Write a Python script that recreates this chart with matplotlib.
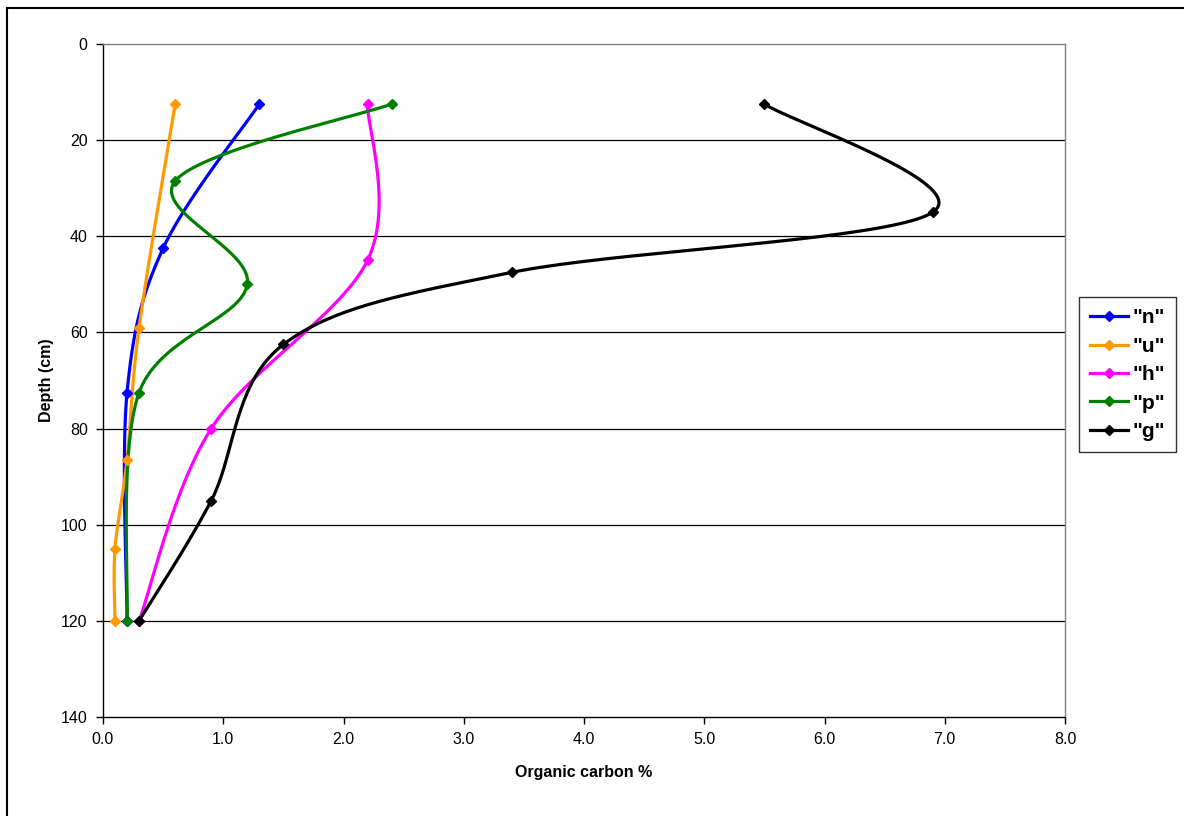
import numpy as np
import matplotlib
matplotlib.use("Agg")
import matplotlib.pyplot as plt
from matplotlib.lines import Line2D
from matplotlib.patches import Rectangle

plt.rcParams['font.family'] = ['Liberation Sans', 'DejaVu Sans']

n_x = [1.3, 0.5, 0.2, 0.2]
n_y = [12.5, 42.5, 72.5, 120]
u_x = [0.6, 0.3, 0.2, 0.1, 0.1]
u_y = [12.5, 59, 86.5, 105, 120]
h_x = [2.2, 2.2, 0.9, 0.3]
h_y = [12.5, 45, 80, 120]
p_x = [2.4, 0.6, 1.2, 0.3, 0.2]
p_y = [12.5, 28.5, 50, 72.5, 120]
g_x = [5.5, 6.9, 3.4, 1.5, 0.9, 0.3]
g_y = [12.5, 35, 47.5, 62.5, 95, 120]

series = [
    ('"n"', n_x, n_y, '#0000FF'),
    ('"u"', u_x, u_y, '#FF9900'),
    ('"h"', h_x, h_y, '#FF00FF'),
    ('"p"', p_x, p_y, '#008000'),
    ('"g"', g_x, g_y, '#000000'),
]

y_ticks = [0, 20, 40, 60, 80, 100, 120, 140]
x_ticks = [0.0, 1.0, 2.0, 3.0, 4.0, 5.0, 6.0, 7.0, 8.0]

fig = plt.figure(figsize=(11.84, 8.16), dpi=100)
fig.patches.append(Rectangle((7/1184, -0.1), 1.2, 1 - 8/816 + 0.1, transform=fig.transFigure,
                             fill=False, edgecolor='black', lw=1.5))
ax = fig.add_axes([103/1184, 1 - 717/816, (1065-103)/1184, (717-44)/816])

# pixel scale factors for smoothing in screen-like space
sx = (1065 - 103) / 8.0
sy = (717 - 44) / 140.0


def smooth(xs, ys, npts=40):
    P = np.column_stack([np.array(xs) * sx, np.array(ys) * sy])
    if len(P) < 3:
        return P[:, 0] / sx, P[:, 1] / sy
    out = []
    m = len(P)
    for i in range(m - 1):
        p0 = P[i - 1] if i > 0 else P[i]
        p1 = P[i]
        p2 = P[i + 1]
        p3 = P[i + 2] if i + 2 < m else P[i + 1]
        c1 = p1 + (p2 - p0) / 6.0
        c2 = p2 - (p3 - p1) / 6.0
        t = np.linspace(0, 1, npts)[:, None]
        b = ((1 - t) ** 3) * p1 + 3 * ((1 - t) ** 2) * t * c1 + 3 * (1 - t) * t ** 2 * c2 + t ** 3 * p2
        out.append(b if i == 0 else b[1:])
    B = np.vstack(out)
    return B[:, 0] / sx, B[:, 1] / sy


handles = []
for name, xs, ys, c in series:
    sxv, syv = smooth(xs, ys)
    ax.plot(sxv, syv, color=c, lw=2.3, solid_capstyle='round', zorder=3)
    ax.plot(xs, ys, linestyle='none', marker='D', markersize=5.5, color=c, zorder=4)
    handles.append(Line2D([0], [0], color=c, lw=2.3, marker='D', markersize=5.5, label=name))

ax.set_xlim(0, 8)
ax.set_ylim(140, 0)
ax.set_xticks(x_ticks)
ax.set_xticklabels([f"{v:.1f}" for v in x_ticks])
ax.set_yticks(y_ticks)
ax.set_yticklabels([str(v) for v in y_ticks])
ax.tick_params(axis='both', direction='out', length=5, width=1, labelsize=11.5, colors='black', pad=6)
for yv in y_ticks[1:-1]:
    ax.axhline(yv, color='black', lw=0.9, zorder=1)
ax.spines['left'].set_color('black')
ax.spines['bottom'].set_color('black')
ax.spines['top'].set_color('#808080')
ax.spines['right'].set_color('#808080')
for s in ax.spines.values():
    s.set_linewidth(1.0)

ax.set_xlabel('Organic carbon %', fontsize=11.5, fontweight='bold', labelpad=13)
ax.set_ylabel('Depth (cm)', fontsize=11.5, fontweight='bold', labelpad=5)

leg = fig.legend(handles=handles, loc='upper left', bbox_to_anchor=(1079/1184, 1 - 297/816),
                 frameon=True, fancybox=False, edgecolor='black',
                 prop={'weight': 'bold', 'size': 15}, handlelength=1.8, handletextpad=0.2,
                 borderpad=0.55, labelspacing=0.45, borderaxespad=0)
leg.get_frame().set_linewidth(1.0)

fig.savefig('out.png', dpi=100)
